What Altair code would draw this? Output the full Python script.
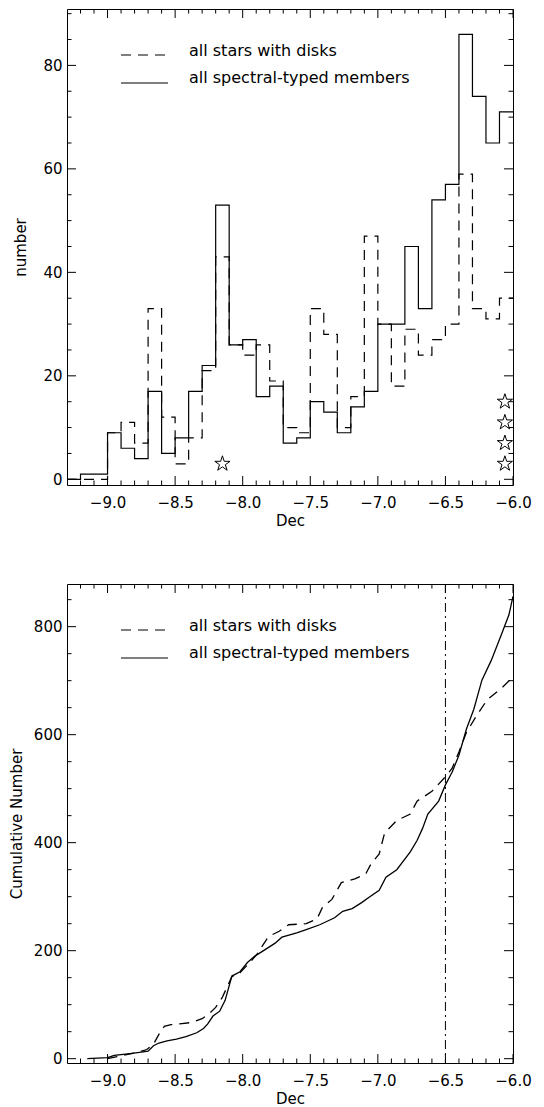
import altair as alt
import pandas as pd

# ---------------- data ----------------
BIN_LEFT = [-9.3, -9.2, -9.1, -9.0, -8.9, -8.8, -8.7, -8.6, -8.5, -8.4, -8.3, -8.2, -8.1, -8.0,
            -7.9, -7.8, -7.7, -7.6, -7.5, -7.4, -7.3, -7.2, -7.1, -7.0, -6.9, -6.8, -6.7, -6.6,
            -6.5, -6.4, -6.3, -6.2, -6.1]
BIN_END = -6.0
N_MEMBERS = [0, 1, 1, 9, 6, 4, 17, 5, 8, 17, 22, 53, 26, 27, 16, 18, 7, 8, 15, 13, 9, 14, 17,
             30, 30, 45, 33, 54, 57, 86, 74, 65, 71]
N_DISKS = [0, 0, 0, 9, 11, 7, 33, 12, 3, 8, 21, 43, 26, 24, 26, 19, 10, 9, 33, 28, 10, 16, 47,
           30, 18, 29, 24, 27, 30, 59, 33, 31, 35]

STAR_DEC = [-8.15, -6.06, -6.06, -6.06, -6.06]
STAR_N = [3, 3, 7, 11, 15]

CUM_MEM_DEC = [-9.15, -9.0, -8.95, -8.85, -8.75, -8.70, -8.66, -8.62, -8.56, -8.49, -8.42, -8.34,
               -8.29, -8.26, -8.22, -8.17, -8.13, -8.08, -8.02, -7.965, -7.91, -7.84, -7.76, -7.71,
               -7.60, -7.53, -7.43, -7.32, -7.26, -7.19, -7.12, -7.07, -6.99, -6.94, -6.86, -6.76,
               -6.71, -6.67, -6.63, -6.55, -6.50, -6.45, -6.40, -6.345, -6.29, -6.23, -6.16, -6.085,
               -6.03, -6.0]
CUM_MEM_N = [0, 2, 6, 9, 12, 14, 24, 29, 33, 36, 41, 48, 56, 64, 79, 88, 108, 153, 161, 178, 190,
             201, 214, 225, 233, 239, 248, 261, 273, 278, 289, 298, 312, 336, 350, 383, 404, 426,
             453, 477, 507, 531, 562, 610, 647, 701, 738, 786, 822, 856]

CUM_DISK_DEC = [-9.0, -8.93, -8.85, -8.77, -8.71, -8.66, -8.62, -8.58, -8.53, -8.45, -8.38, -8.30,
                -8.25, -8.20, -8.15, -8.08, -8.02, -7.94, -7.89, -7.81, -7.73, -7.66, -7.53, -7.45,
                -7.41, -7.34, -7.27, -7.17, -7.09, -7.05, -6.99, -6.95, -6.86, -6.76, -6.71, -6.60,
                -6.50, -6.45, -6.40, -6.345, -6.27, -6.19, -6.085, -6.0]
CUM_DISK_N = [0, 4, 8, 12, 17, 27, 45, 60, 63, 65, 67, 74, 83, 95, 114, 152, 159, 180, 195, 226,
              236, 248, 250, 259, 280, 295, 326, 333, 342, 361, 379, 418, 441, 453, 477, 495, 522,
              538, 568, 604, 635, 665, 686, 707]

DEC_MARK = -6.5
LEGEND_LABELS = ["all stars with disks", "all spectral-typed members"]

X_MAJOR = [-9.0, -8.5, -8.0, -7.5, -7.0, -6.5, -6.0]
X_MINOR = [-9.2, -9.1, -8.9, -8.8, -8.7, -8.6, -8.4, -8.3, -8.2, -8.1, -7.9, -7.8, -7.7, -7.6,
           -7.4, -7.3, -7.2, -7.1, -6.9, -6.8, -6.7, -6.6, -6.4, -6.3, -6.2, -6.1]
Y1_MAJOR = [0, 20, 40, 60, 80]
Y1_MINOR = [5, 10, 15, 25, 30, 35, 45, 50, 55, 65, 70, 75, 85, 90]
Y2_MAJOR = [0, 200, 400, 600, 800]
Y2_MINOR = [50, 100, 150, 250, 300, 350, 450, 500, 550, 650, 700, 750, 850]

# ---------------- styling ----------------
FONT = "DejaVu Sans"
W = 446
H1 = 476
H2 = 479
MAJ, MIN = 9, 4.5
DASH = [10, 7]
STAR_PATH = ("M0,-1L0.2245,-0.309L0.951,-0.309L0.3633,0.118L0.588,0.809L0,0.382"
             "L-0.588,0.809L-0.3633,0.118L-0.951,-0.309L-0.2245,-0.309Z")

x_scale = alt.Scale(domain=[-9.3, -6.0], nice=False, zero=False)
y1_scale = alt.Scale(domain=[-1.1, 90.9], nice=False, zero=False)
y2_scale = alt.Scale(domain=[-8, 879], nice=False, zero=False)

X_AXIS = alt.Axis(title="Dec", values=X_MAJOR, format=".1f", labelFlush=False, labelOverlap=False,
                  ticks=False, domain=False, grid=False, labelPadding=10, titlePadding=3)
Y1_AXIS = alt.Axis(title="number", values=Y1_MAJOR, format="d", labelFlush=False,
                   labelOverlap=False, ticks=False, domain=False, grid=False, labelPadding=5,
                   titlePadding=14)
Y2_AXIS = alt.Axis(title="Cumulative Number", values=Y2_MAJOR, format="d", labelFlush=False,
                   labelOverlap=False, ticks=False, domain=False, grid=False, labelPadding=5,
                   titlePadding=9)


def X(field):
    return alt.X(field, scale=x_scale, axis=X_AXIS)


def tick_layers(y_scale, y_axis, y_major, y_minor, H):
    layers = []
    for vals, L in ((X_MAJOR, MAJ), (X_MINOR, MIN)):
        base = alt.Chart(pd.DataFrame({"t": vals})).mark_rule(color="black", strokeWidth=1)
        layers.append(base.encode(x=X("t:Q"), y=alt.value(H), y2=alt.value(H - L)))
        layers.append(base.encode(x=X("t:Q"), y=alt.value(0), y2=alt.value(L)))
    for vals, L in ((y_major, MAJ), (y_minor, MIN)):
        base = alt.Chart(pd.DataFrame({"t": vals})).mark_rule(color="black", strokeWidth=1)
        yy = alt.Y("t:Q", scale=y_scale, axis=y_axis)
        layers.append(base.encode(y=yy, x=alt.value(0), x2=alt.value(L)))
        layers.append(base.encode(y=yy, x=alt.value(W), x2=alt.value(W - L)))
    return layers


def legend_layers():
    d0 = pd.DataFrame({"label": [LEGEND_LABELS[0]]})
    d1 = pd.DataFrame({"label": [LEGEND_LABELS[1]]})
    r0 = alt.Chart(d0).mark_rule(color="black", strokeWidth=1.2, strokeDash=DASH).encode(
        x=alt.value(54), x2=alt.value(101), y=alt.value(46))
    r1 = alt.Chart(d1).mark_rule(color="black", strokeWidth=1.2).encode(
        x=alt.value(54), x2=alt.value(101), y=alt.value(74))
    t0 = alt.Chart(d0).mark_text(align="left", baseline="middle", font=FONT, fontSize=16,
                                 color="black").encode(x=alt.value(122), y=alt.value(42), text="label:N")
    t1 = alt.Chart(d1).mark_text(align="left", baseline="middle", font=FONT, fontSize=16,
                                 color="black").encode(x=alt.value(122), y=alt.value(69), text="label:N")
    return [r0, r1, t0, t1]


# ---------------- top panel: histograms ----------------
df_mem = pd.DataFrame({"dec": BIN_LEFT + [BIN_END], "n": N_MEMBERS + [N_MEMBERS[-1]]})
df_disk = pd.DataFrame({"dec": BIN_LEFT + [BIN_END], "n": N_DISKS + [N_DISKS[-1]]})
df_star = pd.DataFrame({"dec": STAR_DEC, "n": STAR_N})

Y1 = lambda f: alt.Y(f, scale=y1_scale, axis=Y1_AXIS)
Y2 = lambda f: alt.Y(f, scale=y2_scale, axis=Y2_AXIS)

hist_disk = alt.Chart(df_disk).mark_line(interpolate="step-after", color="black", strokeWidth=1.2,
                                         strokeDash=DASH).encode(x=X("dec:Q"), y=Y1("n:Q"))
hist_mem = alt.Chart(df_mem).mark_line(interpolate="step-after", color="black",
                                       strokeWidth=1.2).encode(x=X("dec:Q"), y=Y1("n:Q"))
stars = alt.Chart(df_star).mark_point(shape=STAR_PATH, size=256, filled=False, color="black",
                                      strokeWidth=1, opacity=1).encode(x=X("dec:Q"), y=Y1("n:Q"))

top = alt.layer(hist_disk, hist_mem, stars,
                *tick_layers(y1_scale, Y1_AXIS, Y1_MAJOR, Y1_MINOR, H1),
                *legend_layers()).properties(width=W, height=H1)

# ---------------- bottom panel: cumulative ----------------
df_cmem = pd.DataFrame({"dec": CUM_MEM_DEC, "n": CUM_MEM_N})
df_cdisk = pd.DataFrame({"dec": CUM_DISK_DEC, "n": CUM_DISK_N})

cum_disk = alt.Chart(df_cdisk).mark_line(color="black", strokeWidth=1.3, strokeDash=DASH).encode(
    x=X("dec:Q"), y=Y2("n:Q"))
cum_mem = alt.Chart(df_cmem).mark_line(color="black", strokeWidth=1.3).encode(
    x=X("dec:Q"), y=Y2("n:Q"))
vline = alt.Chart(pd.DataFrame({"dec": [DEC_MARK]})).mark_rule(
    color="black", strokeWidth=1, strokeDash=[9, 4, 2, 4]).encode(
    x=X("dec:Q"), y=alt.value(0), y2=alt.value(H2))

bottom = alt.layer(cum_disk, cum_mem, vline,
                   *tick_layers(y2_scale, Y2_AXIS, Y2_MAJOR, Y2_MINOR, H2),
                   *legend_layers()).properties(width=W, height=H2)

chart = alt.vconcat(top, bottom, spacing=99, bounds="flush", padding=0).configure_view(
    stroke="black", strokeWidth=1
).configure_axis(
    labelFont=FONT, labelFontSize=15, labelColor="black",
    titleFont=FONT, titleFontSize=15, titleFontWeight="normal", titleColor="black"
)

chart.save("out.html", embed_options={"renderer": "svg", "actions": False})
